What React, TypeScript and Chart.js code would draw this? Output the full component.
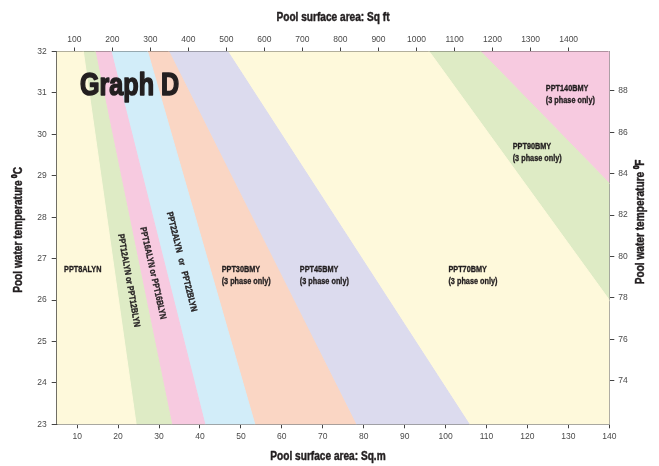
import React, { useEffect, useRef } from "react";
import { Chart, registerables } from "chart.js";

Chart.register(...registerables);

// ---- axis ranges ----
const areaMin = 5;
const areaMax = 140;
const tempMin = 23;
const tempMax = 32;
const fahrenheitMin = 71.9;
const fahrenheitMax = 89.9;
const SQFT_PER_SQM = 10.7639;

// ---- tick labels ----
const sqmTicks = [10, 20, 30, 40, 50, 60, 70, 80, 90, 100, 110, 120, 130, 140];
const sqftTicks = [100, 200, 300, 400, 500, 600, 700, 800, 900, 1000, 1100, 1200, 1300, 1400];
const celsiusTicks = [23, 24, 25, 26, 27, 28, 29, 30, 31, 32];
const fahrenheitTicks = [74, 76, 78, 80, 82, 84, 86, 88];

// ---- band boundaries: pool area (m²) at 32 °C and at 23 °C ----
const boundaryAt32 = [11.5, 14.4, 18.3, 27.2, 32.4, 46.8, 96.0, 108.6];
const boundaryAt23 = [24.4, 33.1, 41.2, 53.4, 78.1, 105.8, 162.0, 197.4];
const outerLeft = 0;
const outerRight = 220;

// ---- models (bands, left to right) ----
const bandModels = [
  "PPT8ALYN",
  "PPT12ALYN or PPT12BLYN",
  "PPT16ALYN or PPT16BLYN",
  "PPT22ALYN   or   PPT22BLYN",
  "PPT30BMY",
  "PPT45BMY",
  "PPT70BMY",
  "PPT90BMY",
  "PPT140BMY",
];
const bandNotes = ["", "", "", "", "(3 phase only)", "(3 phase only)", "(3 phase only)", "(3 phase only)", "(3 phase only)"];
const bandColors = [
  "#FEF9DB",
  "#DEEBC5",
  "#F7CAE0",
  "#D2EDF9",
  "#FAD6C4",
  "#DCDBEE",
  "#FEF9DB",
  "#DEEBC5",
  "#F7CAE0",
];

// label anchors (data units: area m², temperature °C) and rotation (deg)
const labelArea = [6.8, 22.6, 28.5, 35.5, 45.3, 64.4, 100.7, 116.4, 124.5];
const labelTemp = [26.73, 26.47, 26.65, 26.92, 26.73, 26.73, 26.73, 29.7, 31.1];
const labelRotation = [0, 80, 77.5, 76, 0, 0, 0, 0, 0];

const graphTitle = "Graph D";
const graphTitleArea = 10.7;
const graphTitleTemp = 30.96;

const BOLD = "'Liberation Sans', Arial, sans-serif";
const TICKFONT = "'Liberation Sans', Arial, sans-serif";
const TEXT = "#231F20";
const NARROW_SCALE = 0.81;

function narrowText(ctx: any, text: string, x: number, y: number, rot = 0, weight = 0) {
  ctx.save();
  ctx.translate(x, y);
  if (rot) ctx.rotate(rot);
  ctx.scale(NARROW_SCALE, 1);
  ctx.fillText(text, 0, 0);
  if (weight > 0) {
    ctx.lineWidth = weight;
    ctx.strokeStyle = ctx.fillStyle;
    ctx.lineJoin = "round";
    ctx.strokeText(text, 0, 0);
  }
  ctx.restore();
}

const textPlugin = {
  id: "graphText",
  afterDatasetsDraw(chart: any) {
    const ctx = chart.ctx;
    const xs = chart.scales.x;
    const ys = chart.scales.y;
    const area = chart.chartArea;
    ctx.save();
    ctx.beginPath();
    ctx.rect(area.left, area.top, area.right - area.left, area.bottom - area.top);
    ctx.clip();
    ctx.fillStyle = TEXT;
    // graph title
    ctx.font = `bold 31px ${BOLD}`;
    ctx.textAlign = "left";
    ctx.textBaseline = "alphabetic";
    narrowText(ctx, graphTitle, xs.getPixelForValue(graphTitleArea), ys.getPixelForValue(graphTitleTemp), 0, 1.6);
    // band labels
    ctx.font = `bold 9px ${BOLD}`;
    bandModels.forEach((m, i) => {
      const px = xs.getPixelForValue(labelArea[i]);
      const py = ys.getPixelForValue(labelTemp[i]);
      if (labelRotation[i]) {
        ctx.textAlign = "center";
        ctx.textBaseline = "middle";
        narrowText(ctx, m, px, py, (labelRotation[i] * Math.PI) / 180, 0.35);
      } else {
        ctx.textAlign = "left";
        ctx.textBaseline = "middle";
        narrowText(ctx, m, px, py, 0, 0.35);
        if (bandNotes[i]) narrowText(ctx, bandNotes[i], px, py + 11.7, 0, 0.35);
      }
    });
    ctx.restore();
  },
  afterDraw(chart: any) {
    const ctx = chart.ctx;
    const a = chart.chartArea;
    const cx = (a.left + a.right) / 2;
    const cy = (a.top + a.bottom) / 2;
    ctx.save();
    ctx.fillStyle = TEXT;
    ctx.font = `bold 12.5px ${BOLD}`;
    ctx.textAlign = "center";
    ctx.textBaseline = "middle";
    narrowText(ctx, "Pool surface area: Sq ft", cx, 17.5, 0, 0.45);
    narrowText(ctx, "Pool surface area: Sq.m", cx - 5, 456.5, 0, 0.45);
    narrowText(ctx, "Pool water temperature \u2070C", 19, cy - 8, -Math.PI / 2, 0.45);
    narrowText(ctx, "Pool water temperature \u2070F", 641, cy - 16, -Math.PI / 2, 0.45);
    ctx.restore();
  },
};

function axis(position: string, min: number, max: number, ticks: number[], size: number, borderColor: string, borderWidth: number, padding: number) {
  const horizontal = position === "top" || position === "bottom";
  return {
    type: "linear",
    position,
    min,
    max,
    afterBuildTicks: (s: any) => {
      s.ticks = ticks.map((v) => ({ value: v }));
    },
    afterFit: (s: any) => {
      if (horizontal) s.height = size;
      else s.width = size;
    },
    grid: { drawOnChartArea: false, drawTicks: true, tickLength: horizontal ? 4 : 5, color: "#444", lineWidth: 1 },
    border: { display: true, color: borderColor, width: borderWidth },
    ticks: {
      autoSkip: false,
      maxRotation: 0,
      padding,
      color: "#4a4a4a",
      font: { family: TICKFONT, size: 8.5 },
      callback: (v: any) => String(v),
    },
  };
}

export default function App() {
  const ref = useRef<HTMLCanvasElement | null>(null);
  useEffect(() => {
    if (!ref.current) return;
    const edges32 = [outerLeft, ...boundaryAt32, outerRight];
    const edges23 = [outerLeft, ...boundaryAt23, outerRight];
    const datasets = bandColors.map((c, i) => ({
      type: "line",
      label: bandModels[i],
      data: [
        { x: edges32[i], y: tempMax },
        { x: edges32[i + 1], y: tempMax },
        { x: edges23[i + 1], y: tempMin },
        { x: edges23[i], y: tempMin },
        { x: edges32[i], y: tempMax },
      ],
      xAxisID: "x",
      yAxisID: "y",
      backgroundColor: c,
      borderColor: c,
      borderWidth: 1,
      pointRadius: 0,
      tension: 0,
      fill: "shape",
    }));
    const chart = new Chart(ref.current, {
      type: "line",
      data: { datasets } as any,
      options: {
        animation: false,
        responsive: true,
        maintainAspectRatio: false,
        layout: { padding: 0 },
        plugins: { legend: { display: false }, tooltip: { enabled: false } },
        scales: {
          x: axis("bottom", areaMin, areaMax, sqmTicks, 41.7, "#8d8d8d", 2, 3),
          x2: axis("top", areaMin * SQFT_PER_SQM, areaMax * SQFT_PER_SQM, sqftTicks, 51.5, "#333", 1.5, 3),
          y: axis("left", tempMin, tempMax, celsiusTicks, 56.7, "#333", 1.5, 5),
          y2: axis("right", fahrenheitMin, fahrenheitMax, fahrenheitTicks, 49.7, "#8d8d8d", 2, 4),
        } as any,
      },
      plugins: [textPlugin],
    } as any);
    return () => chart.destroy();
  }, []);
  return (
    <div style={{ position: "fixed", left: 0, top: 0, width: 659, height: 466, background: "#fff" }}>
      <canvas ref={ref} />
    </div>
  );
}
